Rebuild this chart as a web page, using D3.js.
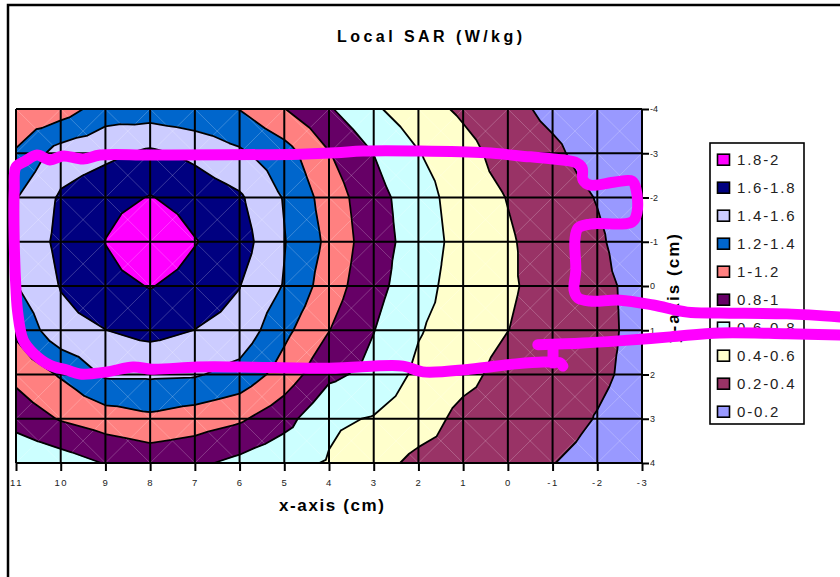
<!DOCTYPE html>
<html>
<head>
<meta charset="utf-8">
<script src="https://cdn.jsdelivr.net/npm/d3@7"></script>
<style>
  html, body { margin: 0; padding: 0; background: #fff; }
  svg { display: block; font-family: "Liberation Sans", Arial, sans-serif; }
</style>
</head>
<body>
<svg id="chart" width="840" height="577"></svg>
<script>
// Grid positions (cm)
const xValues = [11, 10, 9, 8, 7, 6, 5, 4, 3, 2, 1, 0, -1, -2, -3];
const yValues = [-4, -3, -2, -1, 0, 1, 2, 3, 4];

// Local SAR (W/kg), one row per y position, columns follow xValues
const sarAtYm4 = [1.05, 1.10, 1.30, 1.29, 1.25, 1.195, 1.005, 0.82, 0.63, 0.48, 0.366, 0.26, 0.15, 0.08, 0.04];
const sarAtYm3 = [1.22, 1.49, 1.555, 1.64, 1.555, 1.434, 1.285, 1.01, 0.798, 0.61, 0.47, 0.314, 0.24, 0.107, 0.05];
const sarAtYm2 = [1.39, 1.626, 1.73, 1.81, 1.72, 1.627, 1.386, 1.108, 0.868, 0.694, 0.494, 0.394, 0.30, 0.191, 0.08];
const sarAtYm1 = [1.44, 1.65, 1.805, 1.96, 1.81, 1.69, 1.41, 1.154, 0.879, 0.718, 0.515, 0.42, 0.32, 0.23, 0.08];
const sarAtY0  = [1.39, 1.61, 1.73, 1.81, 1.72, 1.605, 1.387, 1.095, 0.863, 0.678, 0.501, 0.42, 0.343, 0.25, 0.139];
const sarAtY1  = [1.242, 1.533, 1.598, 1.66, 1.598, 1.53, 1.25, 1.005, 0.805, 0.615, 0.50, 0.402, 0.33, 0.26, 0.137];
const sarAtY2  = [1.05, 1.22, 1.429, 1.43, 1.42, 1.33, 1.113, 0.844, 0.742, 0.558, 0.46, 0.327, 0.29, 0.24, 0.135];
const sarAtY3  = [0.88, 1.015, 1.10, 1.16, 1.10, 1.03, 0.872, 0.632, 0.588, 0.50, 0.34, 0.30, 0.29, 0.19, 0.10];
const sarAtY4  = [0.62, 0.70, 0.81, 0.87, 0.84, 0.747, 0.65, 0.586, 0.48, 0.344, 0.32, 0.28, 0.205, 0.13, 0.08];
const sarRows = [sarAtYm4, sarAtYm3, sarAtYm2, sarAtYm1, sarAtY0, sarAtY1, sarAtY2, sarAtY3, sarAtY4];

// Contour bands (low to high)
const bandLower  = [0, 0.2, 0.4, 0.6, 0.8, 1.0, 1.2, 1.4, 1.6, 1.8];
const bandUpper  = [0.2, 0.4, 0.6, 0.8, 1.0, 1.2, 1.4, 1.6, 1.8, 2.0];
const bandLabels = ["0-0.2", "0.2-0.4", "0.4-0.6", "0.6-0.8", "0.8-1", "1-1.2", "1.2-1.4", "1.4-1.6", "1.6-1.8", "1.8-2"];
const bandColors = ["#9999FF", "#993366", "#FFFFCC", "#CCFFFF", "#660066", "#FF8080", "#0066CC", "#CCCCFF", "#000080", "#FF00FF"];
const contourLevels = [0.2, 0.4, 0.6, 0.8, 1.0, 1.2, 1.4, 1.6, 1.8];

// Axis ticks
const xTicks = xValues;
const yTicks = yValues;

// Hand-drawn highlight strokes, in cm
const highlightLoop = [
  [-7.43, 0.70], [-6.24, 0.63], [-4.74, 0.61], [-4.01, 0.59], [-3.25, 0.43], [-2.51, 0.32],
  [-1.84, 0.34], [-1.57, 0.27], [-1.48, 0.09], [-1.52, -0.36], [-1.50, -1.04], [-1.57, -1.31],
  [-1.84, -1.40], [-2.78, -1.45], [-2.89, -1.67], [-2.87, -2.17], [-2.78, -2.37], [-2.40, -2.35],
  [-1.84, -2.28], [-1.68, -2.40], [-1.66, -2.67], [-1.50, -2.80], [-1.01, -2.87], [-0.27, -2.94],
  [0.49, -3.01], [1.96, -3.05], [3.24, -3.05], [3.84, -3.01], [4.65, -2.98], [7.96, -2.96],
  [9.12, -2.96], [9.50, -2.87], [9.95, -2.94], [10.24, -2.85], [10.53, -2.96], [10.80, -2.82],
  [11.00, -2.69], [11.04, -2.17], [11.04, -1.04], [11.00, 0.09], [10.96, 0.61], [10.84, 1.22],
  [10.62, 1.51], [10.24, 1.79], [9.86, 1.90], [9.57, 1.99], [8.96, 1.94], [8.38, 1.83],
  [7.96, 1.88], [6.95, 1.83], [5.99, 1.83], [3.98, 1.86], [2.34, 1.81], [1.90, 1.94],
  [0.85, 1.88], [-0.18, 1.76], [-0.79, 1.72], [-1.17, 1.74], [-1.23, 1.81]
];
const highlightStem = [[-1.01, 1.74], [-1.01, 1.36]];
const highlightTail = [[-0.67, 1.33], [-1.68, 1.29], [-2.47, 1.24], [-3.63, 1.15], [-4.74, 1.06], [-6.24, 1.08], [-7.43, 1.11]];

const svg = d3.select("#chart");

const x = d3.scaleLinear().domain([11, -3]).range([16, 642]);
const y = d3.scaleLinear().domain([-4, 4]).range([109, 463]);

// Outer chart frame
svg.append("rect")
  .attr("x", 8).attr("y", 5).attr("width", 1200).attr("height", 1200)
  .attr("fill", "#fff").attr("stroke", "#000").attr("stroke-width", 2.5);

// Split every grid cell into four triangles around its centre (mean value)
const triangles = [];
for (let j = 0; j < yValues.length - 1; j++) {
  for (let i = 0; i < xValues.length - 1; i++) {
    const p00 = [xValues[i], yValues[j], sarRows[j][i]];
    const p10 = [xValues[i + 1], yValues[j], sarRows[j][i + 1]];
    const p11 = [xValues[i + 1], yValues[j + 1], sarRows[j + 1][i + 1]];
    const p01 = [xValues[i], yValues[j + 1], sarRows[j + 1][i]];
    const c = [(p00[0] + p10[0]) / 2, (p00[1] + p01[1]) / 2, (p00[2] + p10[2] + p11[2] + p01[2]) / 4];
    triangles.push([p00, p10, c], [p10, p11, c], [p11, p01, c], [p01, p00, c]);
  }
}

function clipPoly(poly, level, keepAbove) {
  const out = [];
  for (let k = 0; k < poly.length; k++) {
    const a = poly[k], b = poly[(k + 1) % poly.length];
    const ina = keepAbove ? a[2] >= level : a[2] <= level;
    const inb = keepAbove ? b[2] >= level : b[2] <= level;
    if (ina) out.push(a);
    if (ina !== inb) {
      const t = (level - a[2]) / (b[2] - a[2]);
      out.push([a[0] + (b[0] - a[0]) * t, a[1] + (b[1] - a[1]) * t, level]);
    }
  }
  return out;
}

const polyLine = d3.line().x(p => x(p[0])).y(p => y(p[1]));

// Filled bands
const bandsG = svg.append("g");
bandLower.forEach((lo, b) => {
  const hi = bandUpper[b];
  let d = "";
  triangles.forEach(tri => {
    let poly = clipPoly(tri, lo, true);
    if (poly.length >= 3) poly = clipPoly(poly, hi, false);
    if (poly.length >= 3) d += polyLine(poly) + "Z";
  });
  bandsG.append("path")
    .attr("d", d)
    .attr("fill", bandColors[b])
    .attr("stroke", bandColors[b])
    .attr("stroke-width", 0.6)
    .attr("stroke-linejoin", "round");
});

// Faint cell diagonals
const diagG = svg.append("g")
  .attr("stroke", "#fff").attr("stroke-opacity", 0.22).attr("stroke-width", 1);
for (let j = 0; j < yValues.length - 1; j++) {
  for (let i = 0; i < xValues.length - 1; i++) {
    diagG.append("line")
      .attr("x1", x(xValues[i])).attr("y1", y(yValues[j]))
      .attr("x2", x(xValues[i + 1])).attr("y2", y(yValues[j + 1]));
    diagG.append("line")
      .attr("x1", x(xValues[i + 1])).attr("y1", y(yValues[j]))
      .attr("x2", x(xValues[i])).attr("y2", y(yValues[j + 1]));
  }
}

// Contour lines
let contourD = "";
triangles.forEach(tri => {
  contourLevels.forEach(level => {
    const pts = [];
    for (let k = 0; k < 3; k++) {
      const a = tri[k], b = tri[(k + 1) % 3];
      if ((a[2] - level) * (b[2] - level) < 0) {
        const t = (level - a[2]) / (b[2] - a[2]);
        pts.push([a[0] + (b[0] - a[0]) * t, a[1] + (b[1] - a[1]) * t]);
      }
    }
    if (pts.length === 2) contourD += polyLine(pts);
  });
});
svg.append("path")
  .attr("d", contourD)
  .attr("fill", "none")
  .attr("stroke", "#000")
  .attr("stroke-width", 1.8)
  .attr("stroke-linecap", "round");

// Grid
const gridG = svg.append("g").attr("stroke", "#000").attr("stroke-width", 2);
xValues.forEach(v => {
  gridG.append("line").attr("x1", x(v)).attr("x2", x(v)).attr("y1", y(-4)).attr("y2", y(4));
});
yValues.forEach(v => {
  gridG.append("line").attr("x1", x(11)).attr("x2", x(-3)).attr("y1", y(v)).attr("y2", y(v));
});

// Axes
const xAxisG = svg.append("g")
  .attr("transform", `translate(0,${y(4)})`)
  .call(d3.axisBottom(x).tickValues(xTicks).tickSize(8).tickSizeOuter(0).tickPadding(8).tickFormat(d => String(d)));
xAxisG.select(".domain").remove();
xAxisG.selectAll(".tick line").attr("stroke", "#000").attr("stroke-width", 2);
xAxisG.selectAll(".tick text")
  .attr("font-family", "'Liberation Sans', Arial, sans-serif")
  .attr("font-size", 9.5).attr("fill", "#222").style("letter-spacing", "1.5px");

const yAxisG = svg.append("g")
  .attr("transform", `translate(${x(-3)},0)`)
  .call(d3.axisRight(y).tickValues(yTicks).tickSize(7).tickSizeOuter(0).tickPadding(1).tickFormat(d => String(d)));
yAxisG.select(".domain").remove();
yAxisG.selectAll(".tick line").attr("stroke", "#000").attr("stroke-width", 2);
yAxisG.selectAll(".tick text")
  .attr("font-family", "'Liberation Sans', Arial, sans-serif")
  .attr("font-size", 9).attr("fill", "#222");

// Titles
svg.append("text")
  .attr("x", 429.5).attr("y", 41.5)
  .attr("text-anchor", "middle")
  .attr("font-size", 16).attr("font-weight", "bold")
  .attr("textLength", 185).attr("lengthAdjust", "spacing")
  .text("Local SAR (W/kg)");

svg.append("text")
  .attr("x", 331.5).attr("y", 510.5)
  .attr("text-anchor", "middle")
  .attr("font-size", 17).attr("font-weight", "bold")
  .attr("textLength", 105).attr("lengthAdjust", "spacing")
  .text("x-axis (cm)");

svg.append("text")
  .attr("transform", "translate(679,288.5) rotate(-90)")
  .attr("text-anchor", "middle")
  .attr("font-size", 17).attr("font-weight", "bold")
  .attr("textLength", 109).attr("lengthAdjust", "spacing")
  .text("y-axis (cm)");

// Legend
const legendG = svg.append("g");
legendG.append("rect")
  .attr("x", 710).attr("y", 143).attr("width", 94).attr("height", 281)
  .attr("fill", "#fff").attr("stroke", "#000").attr("stroke-width", 1.6);
const legendOrder = d3.range(bandLabels.length).reverse();
legendOrder.forEach((b, k) => {
  const cy = 159.7 + 28 * k;
  legendG.append("rect")
    .attr("x", 717.5).attr("y", cy - 5.5).attr("width", 12).attr("height", 11)
    .attr("fill", bandColors[b]).attr("stroke", "#000").attr("stroke-width", 1.6);
  legendG.append("text")
    .attr("x", 737).attr("y", cy + 5.4)
    .attr("font-size", 15).attr("fill", "#222")
    .style("letter-spacing", "1.8px")
    .text(bandLabels[b]);
});

// Magenta highlight strokes
const hlLine = d3.line().x(p => x(p[0])).y(p => y(p[1])).curve(d3.curveCatmullRom.alpha(0.5));
[highlightLoop, highlightStem, highlightTail].forEach(pts => {
  svg.append("path")
    .attr("d", hlLine(pts))
    .attr("fill", "none")
    .attr("stroke", "#FF00FF")
    .attr("stroke-width", 11)
    .attr("stroke-linecap", "round")
    .attr("stroke-linejoin", "round");
});
</script>
</body>
</html>
